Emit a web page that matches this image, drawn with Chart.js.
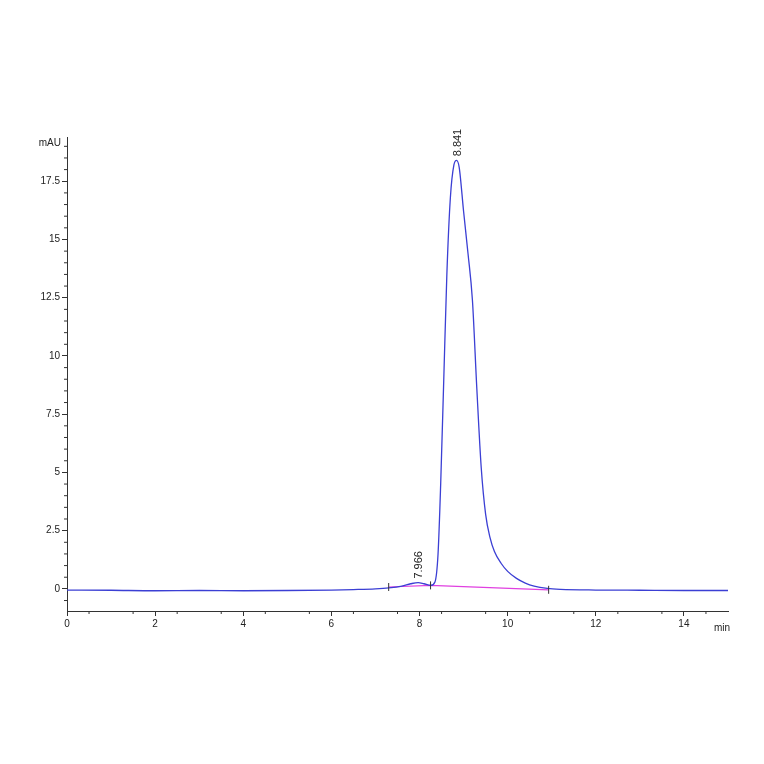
<!DOCTYPE html>
<html>
<head>
<meta charset="utf-8">
<script src="https://cdn.jsdelivr.net/npm/chart.js@4/dist/chart.umd.min.js"></script>
<style>
  html, body { margin: 0; padding: 0; background: #fff; }
</style>
</head>
<body>
<canvas id="chart" width="764" height="764"></canvas>
<script>
// --- DATA ---
const times = [0, 1, 2, 3, 4, 5, 6, 6.5, 7, 7.3, 7.6, 7.8, 7.97, 8.1, 8.25, 8.35, 8.42, 8.48, 8.55, 8.62, 8.7, 8.78, 8.84, 8.9, 9.0, 9.1, 9.2, 9.3, 9.4, 9.5, 9.6, 9.7, 9.85, 10.0, 10.2, 10.4, 10.6, 10.9, 11.2, 12, 13, 14, 15];
const signal = [-0.05, -0.06, -0.08, -0.07, -0.08, -0.07, -0.05, -0.03, 0.0, 0.04, 0.12, 0.22, 0.27, 0.22, 0.15, 0.3, 1.5, 4.5, 9.0, 13.5, 16.8, 18.2, 18.4, 18.1, 16.2, 14.4, 12.4, 8.6, 5.2, 3.2, 2.2, 1.6, 1.1, 0.75, 0.45, 0.25, 0.12, 0.02, -0.02, -0.05, -0.06, -0.07, -0.07];
const baselineT = [7.3, 8.25, 10.93];
const baselineY = [0.08, 0.15, -0.04];
const peakTimes = [7.966, 8.841];
const peakHeights = [0.27, 18.4];
const peakLabels = ['7.966', '8.841'];
const xTicks = [0, 2, 4, 6, 8, 10, 12, 14];
const yTicks = [0, 2.5, 5, 7.5, 10, 12.5, 15, 17.5];

const axisColor = '#333';
const font = { family: 'Liberation Sans, Arial', size: 10 };

const extras = {
    id: 'extras',
    afterDraw(chart) {
        const { ctx, scales: { x, y }, chartArea } = chart;
        ctx.save();
        ctx.strokeStyle = axisColor;
        ctx.lineWidth = 1;
        // minor ticks
        for (let v = 0.5; v <= 15; v += 1) {
            const px = x.getPixelForValue(v);
            ctx.beginPath(); ctx.moveTo(px, chartArea.bottom); ctx.lineTo(px, chartArea.bottom + 3); ctx.stroke();
        }
        for (let v = -0.5; v <= 19.4; v += 0.5) {
            if (yTicks.includes(v)) continue;
            const py = y.getPixelForValue(v);
            ctx.beginPath(); ctx.moveTo(chartArea.left - 3, py); ctx.lineTo(chartArea.left, py); ctx.stroke();
        }
        ctx.fillStyle = '#222';
        ctx.font = '10px Liberation Sans, Arial';
        ctx.textAlign = 'right';
        ctx.fillText('mAU', chartArea.left - 6, chartArea.top + 9);
        ctx.textAlign = 'left';
        ctx.fillText('min', chartArea.right - 14, chartArea.bottom + 20);
        // peak labels, rotated
        peakTimes.forEach((t, i) => {
            const px = x.getPixelForValue(t);
            const py = y.getPixelForValue(peakHeights[i]) - 4;
            ctx.save();
            ctx.translate(px + 4, py);
            ctx.rotate(-Math.PI / 2);
            ctx.textAlign = 'left';
            ctx.font = '11px Liberation Sans, Arial';
            ctx.fillText(peakLabels[i], 0, 0);
            ctx.restore();
        });
        // integration marks
        baselineT.forEach((t, i) => {
            const px = x.getPixelForValue(t);
            const py = y.getPixelForValue(baselineY[i]);
            ctx.beginPath(); ctx.moveTo(px, py - 4); ctx.lineTo(px, py + 4); ctx.stroke();
        });
        ctx.restore();
    }
};

new Chart(document.getElementById('chart'), {
    type: 'scatter',
    data: {
        datasets: [
            {
                data: times.map((t, i) => ({ x: t, y: signal[i] })),
                showLine: true, borderColor: '#3b3fd4', borderWidth: 1.3,
                pointRadius: 0, tension: 0.4, cubicInterpolationMode: 'monotone'
            },
            {
                data: baselineT.map((t, i) => ({ x: t, y: baselineY[i] })),
                showLine: true, borderColor: '#e040e0', borderWidth: 1.2,
                pointRadius: 0, tension: 0
            }
        ]
    },
    plugins: [extras],
    options: {
        responsive: false,
        animation: false,
        layout: { padding: { left: 0, top: 137, right: 36, bottom: 123 } },
        plugins: { legend: { display: false }, tooltip: { enabled: false } },
        scales: {
            x: {
                type: 'linear', min: 0, max: 15,
                afterFit: s => { s.height = 30; },
                afterBuildTicks: s => { s.ticks = xTicks.map(v => ({ value: v })); },
                grid: { drawOnChartArea: false, tickLength: 5, color: axisColor },
                border: { color: axisColor },
                ticks: { color: '#222', font, padding: 2, maxRotation: 0 }
            },
            y: {
                type: 'linear', min: -0.95, max: 19.4,
                afterFit: s => { s.width = 67; },
                afterBuildTicks: s => { s.ticks = yTicks.map(v => ({ value: v })); },
                grid: { drawOnChartArea: false, tickLength: 5, color: axisColor },
                border: { color: axisColor },
                ticks: { color: '#222', font, padding: 2 }
            }
        }
    }
});
</script>
</body>
</html>
